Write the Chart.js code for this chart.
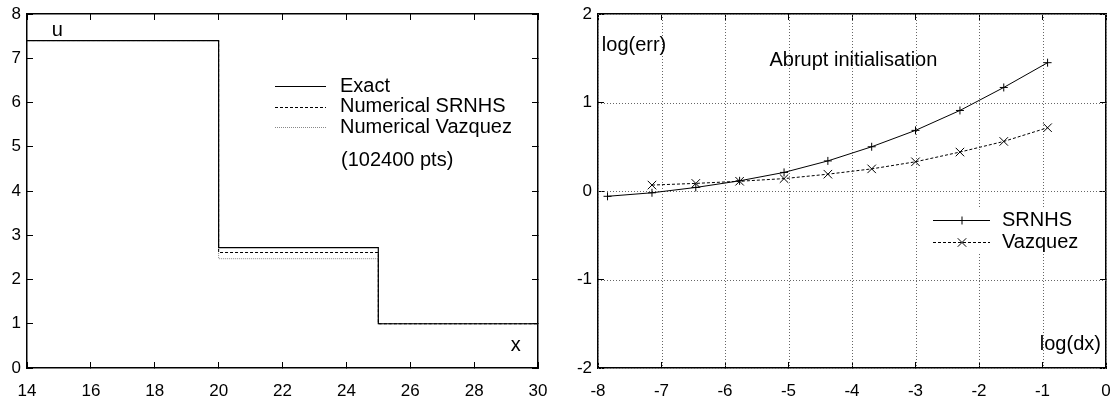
<!DOCTYPE html>
<html>
<head>
<meta charset="utf-8">
<script src="https://cdn.jsdelivr.net/npm/chart.js@4"></script>
<style>
  body { margin: 0; background: #fff; width: 1119px; height: 401px; position: relative; overflow: hidden; }
  .box { position: absolute; top: 0; height: 401px; }
  #left { left: 0; width: 556px; }
  #right { left: 560px; width: 559px; }
</style>
</head>
<body>
<div class="box" id="left"><canvas id="c1" width="556" height="401"></canvas></div>
<div class="box" id="right"><canvas id="c2" width="559" height="401"></canvas></div>
<script>
// left panel: u(x) steps
const stepX = [14, 20, 25, 30];
const exactU = [7.4, 2.72, 1.0, 1.0];
const srnhsU = [7.4, 2.61, 1.0, 1.0];
const vazquezU = [7.4, 2.47, 1.0, 1.0];

// right panel: convergence
const logDx = [-7.85, -7.15, -6.46, -5.77, -5.07, -4.38, -3.69, -3.00, -2.30, -1.61, -0.92];
const srnhsErr = [-0.06, -0.02, 0.04, 0.115, 0.21, 0.34, 0.50, 0.685, 0.91, 1.17, 1.45];
const vazquezDx = [-7.15, -6.46, -5.77, -5.07, -4.38, -3.69, -3.00, -2.30, -1.61, -0.92];
const vazquezErr = [0.067, 0.086, 0.11, 0.14, 0.19, 0.25, 0.33, 0.44, 0.56, 0.715];

const FONT = "'Liberation Sans', Arial, Helvetica, sans-serif";
const pts = (xs, ys) => xs.map((x, i) => ({ x: x, y: ys[i] }));

function label(ctx, s, x, y, align) {
  ctx.save();
  ctx.fillStyle = '#000';
  ctx.font = '20px ' + FONT;
  ctx.textAlign = align || 'left';
  ctx.textBaseline = 'middle';
  ctx.fillText(s, x, y);
  ctx.restore();
}

// four axes: labelled bottom/left, mirrored top/right, all with inward ticks
function axes(min, max, step, width, height) {
  const grid = { display: true, drawOnChartArea: false, drawTicks: true, tickLength: -6, color: '#000', lineWidth: 1 };
  const border = { display: true, color: '#000', width: 1.5 };
  const font = { family: FONT, size: 17 };
  const noPad = s => { s.paddingLeft = 0; s.paddingRight = 0; s.paddingTop = 0; s.paddingBottom = 0; };
  return {
    x: {
      type: 'linear', position: 'bottom', min: min[0], max: max[0], grid, border,
      ticks: { stepSize: step[0], color: '#000', font, padding: 19, maxRotation: 0 },
      afterFit: s => { s.height = height; noPad(s); }
    },
    x2: {
      type: 'linear', position: 'top', min: min[0], max: max[0], grid, border,
      ticks: { stepSize: step[0], display: false },
      afterFit: s => { s.height = 0; noPad(s); }
    },
    y: {
      type: 'linear', position: 'left', min: min[1], max: max[1], grid, border,
      ticks: { stepSize: step[1], color: '#000', font, padding: 12 },
      afterFit: s => { s.width = width; noPad(s); }
    },
    y2: {
      type: 'linear', position: 'right', min: min[1], max: max[1], grid, border,
      ticks: { stepSize: step[1], display: false },
      afterFit: s => { s.width = 0; noPad(s); }
    }
  };
}

// ---------- left chart ----------
const leftDeco = {
  id: 'leftDeco',
  afterDraw(chart) {
    const ctx = chart.ctx, a = chart.chartArea;
    const xs = chart.scales.x, ys = chart.scales.y;
    label(ctx, 'u', xs.getPixelForValue(14.95), ys.getPixelForValue(7.62), 'center');
    label(ctx, 'x', xs.getPixelForValue(29.3), ys.getPixelForValue(0.52), 'center');
    const ds = chart.data.datasets;
    [0, 1, 2].forEach((i, r) => {
      const y = a.top + 72 + r * 20.5;
      ctx.save();
      ctx.strokeStyle = ds[i].borderColor;
      ctx.lineWidth = ds[i].borderWidth;
      ctx.setLineDash(ds[i].borderDash || []);
      ctx.beginPath();
      ctx.moveTo(a.left + 248, Math.round(y) + 0.5);
      ctx.lineTo(a.left + 299, Math.round(y) + 0.5);
      ctx.stroke();
      ctx.restore();
      label(ctx, ds[i].label, a.left + 313, y);
    });
    label(ctx, '(102400 pts)', a.left + 314, a.top + 146);
  }
};

new Chart(document.getElementById('c1'), {
  type: 'line',
  data: {
    datasets: [
      { label: 'Exact', data: pts(stepX, exactU), stepped: true, borderColor: '#000', borderWidth: 1.2, pointRadius: 0 },
      { label: 'Numerical SRNHS', data: pts(stepX, srnhsU), stepped: true, borderColor: '#000', borderWidth: 1, borderDash: [3, 2], pointRadius: 0 },
      { label: 'Numerical Vazquez', data: pts(stepX, vazquezU), stepped: true, borderColor: '#888', borderWidth: 1, borderDash: [1, 1], pointRadius: 0 }
    ]
  },
  options: {
    responsive: false, animation: false, devicePixelRatio: 1,
    layout: { padding: { top: 14, right: 18, left: 0, bottom: 0 } },
    plugins: { legend: { display: false }, tooltip: { enabled: false } },
    scales: axes([14, 0], [30, 8], [2, 1], 27, 33)
  },
  plugins: [leftDeco]
});

// ---------- right chart ----------
const rightDeco = {
  id: 'rightDeco',
  beforeDatasetsDraw(chart) {
    const ctx = chart.ctx, a = chart.chartArea;
    const xs = chart.scales.x, ys = chart.scales.y;
    ctx.save();
    ctx.strokeStyle = '#666';
    ctx.lineWidth = 1;
    ctx.setLineDash([1, 2]);
    xs.ticks.forEach(t => {
      const p = Math.round(xs.getPixelForValue(t.value)) + 0.5;
      ctx.beginPath(); ctx.moveTo(p, a.top); ctx.lineTo(p, a.bottom); ctx.stroke();
    });
    ys.ticks.forEach(t => {
      const p = Math.round(ys.getPixelForValue(t.value)) + 0.5;
      ctx.beginPath(); ctx.moveTo(a.left, p); ctx.lineTo(a.right, p); ctx.stroke();
    });
    ctx.restore();
    // legend background hides the grid
    ctx.save();
    ctx.fillStyle = '#fff';
    ctx.fillRect(a.left + 327, a.top + 193, 178, 47);
    ctx.restore();
  },
  afterDraw(chart) {
    const ctx = chart.ctx, a = chart.chartArea;
    const xs = chart.scales.x, ys = chart.scales.y;
    label(ctx, 'log(err)', xs.getPixelForValue(-7.94), ys.getPixelForValue(1.64));
    label(ctx, 'Abrupt initialisation', xs.getPixelForValue(-5.30), ys.getPixelForValue(1.47));
    label(ctx, 'log(dx)', xs.getPixelForValue(-0.08), ys.getPixelForValue(-1.73), 'right');
    const ds = chart.data.datasets;
    ds.forEach((d, r) => {
      const y = Math.round(a.top + 206 + r * 22) + 0.5;
      ctx.save();
      ctx.strokeStyle = d.borderColor;
      ctx.lineWidth = d.borderWidth;
      ctx.setLineDash(d.borderDash || []);
      ctx.beginPath();
      ctx.moveTo(a.left + 335, y);
      ctx.lineTo(a.left + 392, y);
      ctx.stroke();
      ctx.setLineDash([]);
      Chart.helpers.drawPoint(ctx, { pointStyle: d.pointStyle, radius: d.pointRadius, borderWidth: 1 }, a.left + 364, y);
      ctx.restore();
      label(ctx, d.label, a.left + 404, y);
    });
  }
};

new Chart(document.getElementById('c2'), {
  type: 'line',
  data: {
    datasets: [
      { label: 'SRNHS', data: pts(logDx, srnhsErr), borderColor: '#000', backgroundColor: '#000', borderWidth: 1, tension: 0,
        pointStyle: 'cross', pointRadius: 4, pointBorderWidth: 1, pointBorderColor: '#000' },
      { label: 'Vazquez', data: pts(vazquezDx, vazquezErr), borderColor: '#000', backgroundColor: '#000', borderWidth: 1, borderDash: [3, 2], tension: 0,
        pointStyle: 'crossRot', pointRadius: 6, pointBorderWidth: 1, pointBorderColor: '#000' }
    ]
  },
  options: {
    responsive: false, animation: false, devicePixelRatio: 1,
    layout: { padding: { top: 14, right: 13, left: 0, bottom: 0 } },
    plugins: { legend: { display: false }, tooltip: { enabled: false } },
    scales: axes([-8, -2], [0, 2], [1, 1], 38, 33)
  },
  plugins: [rightDeco]
});
</script>
</body>
</html>
